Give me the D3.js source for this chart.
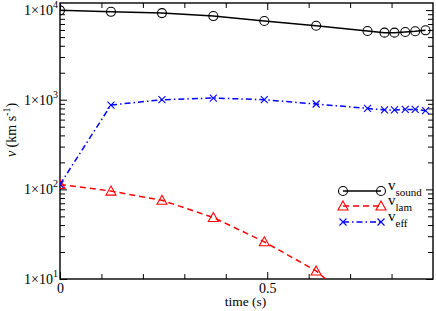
<!DOCTYPE html>
<html><head><meta charset="utf-8">
<script src="https://cdn.jsdelivr.net/npm/d3@7"></script>
<style>body{margin:0;background:#fff}svg{display:block}svg text{font-family:"Liberation Serif","Times New Roman",serif !important}</style>
</head><body><svg id="c" width="436" height="311"></svg>
<script>
const time = [0, 0.123, 0.246, 0.370, 0.493, 0.618, 0.742, 0.783, 0.807, 0.833, 0.857, 0.882];
const vSound = [9930, 9570, 9260, 8580, 7550, 6690, 5840, 5600, 5600, 5700, 5800, 5950];
const vLam = [113.6, 95.7, 75.5, 48.5, 26, 12.3, 4.0];
const vEff = [113.6, 873, 1000, 1045, 1000, 896, 800, 769, 769, 780, 780, 755];
const xTicksMajor = [0, 0.5];
const xTicksMinor = [0.1, 0.2, 0.3, 0.4, 0.6, 0.7, 0.8];
const yDecades = [10, 100, 1000, 10000];
const legendNames = ["sound", "lam", "eff"];

(function () {
const svg = d3.select("#c");
const L = 60, R = 433, T = 3, B = 279;
const x = d3.scaleLinear().domain([0, 0.9]).range([L, R]);
const y = d3.scaleLog().domain([10, 12000]).range([B, T]);

const minorYv = [];
for (const d of [10, 100, 1000]) for (let k = 2; k <= 9; k++) minorYv.push(d * k);

svg.append("defs").append("clipPath").attr("id", "clip")
  .append("rect").attr("x", L).attr("y", T).attr("width", R - L).attr("height", B - T);

const g = svg.append("g");
const bottomAx = g.append("g").attr("transform", `translate(0,${B})`)
  .call(d3.axisBottom(x).tickValues(xTicksMajor).tickSizeInner(-7).tickSizeOuter(0).tickPadding(4).tickFormat(d => d === 0 ? "0" : d3.format(".1f")(d)));
bottomAx.append("g").call(d3.axisBottom(x).tickValues(xTicksMinor).tickSizeInner(-5).tickSizeOuter(0).tickFormat(""));
const topAx = g.append("g").attr("transform", `translate(0,${T})`)
  .call(d3.axisTop(x).tickValues(xTicksMajor).tickSizeInner(-7).tickSizeOuter(0).tickFormat(""));
topAx.append("g").call(d3.axisTop(x).tickValues(xTicksMinor).tickSizeInner(-5).tickSizeOuter(0).tickFormat(""));
const leftAx = g.append("g").attr("transform", `translate(${L},0)`)
  .call(d3.axisLeft(y).tickValues(yDecades).tickSizeInner(-7).tickSizeOuter(0).tickFormat(""));
leftAx.append("g").call(d3.axisLeft(y).tickValues(minorYv).tickSizeInner(-5).tickSizeOuter(0).tickFormat(""));
const rightAx = g.append("g").attr("transform", `translate(${R},0)`)
  .call(d3.axisRight(y).tickValues(yDecades).tickSizeInner(-7).tickSizeOuter(0).tickFormat(""));
rightAx.append("g").call(d3.axisRight(y).tickValues(minorYv).tickSizeInner(-5).tickSizeOuter(0).tickFormat(""));
g.selectAll(".domain").remove();
g.selectAll(".tick line").attr("stroke", "#000").attr("stroke-width", 1);
bottomAx.selectAll("text").attr("font-size", 14).attr("fill", "#000");

g.append("rect").attr("x", L).attr("y", T).attr("width", R - L).attr("height", B - T)
  .attr("fill", "none").attr("stroke", "#000").attr("stroke-width", 1.4);

const yl = g.append("g");
yDecades.forEach(v => {
  const t = yl.append("text").attr("x", L - 2).attr("y", y(v) + 5).attr("text-anchor", "end").attr("font-size", 14).attr("fill", "#000");
  t.append("tspan").text("1×10");
  t.append("tspan").attr("font-size", 10).attr("dy", -7).text(String(Math.round(Math.log10(v))));
});

svg.append("text").attr("x", (L + R) / 2 - 1).attr("y", 306).attr("text-anchor", "middle").attr("font-size", 13.5).text("time (s)");
const yt = svg.append("text").attr("transform", `translate(16,130) rotate(-90)`).attr("text-anchor", "middle").attr("font-size", 14);
yt.append("tspan").attr("font-style", "italic").text("v");
yt.append("tspan").text(" (km s");
yt.append("tspan").attr("font-size", 10).attr("dy", -6).text("-1");
yt.append("tspan").attr("dy", 6).text(")");

const plot = svg.append("g").attr("clip-path", "url(#clip)");
const series = [
  {vals: vSound, color: "#000", dash: null, marker: "circle"},
  {vals: vLam, color: "#ff0000", dash: "6,4", marker: "triangle"},
  {vals: vEff, color: "#0000ff", dash: "6,3,1.5,3", marker: "x"}
];
const line = d3.line().x(d => x(d[0])).y(d => y(d[1]));
function drawMarker(sel, type, color, cx, cy) {
  if (type === "circle") sel.append("circle").attr("cx", cx).attr("cy", cy).attr("r", 4.5).attr("fill", "none").attr("stroke", color).attr("stroke-width", 1.1);
  else if (type === "triangle") sel.append("path").attr("d", `M${cx},${cy - 5}L${cx + 5},${cy + 4}L${cx - 5},${cy + 4}Z`).attr("fill", "none").attr("stroke", color).attr("stroke-width", 1.1);
  else sel.append("path").attr("d", `M${cx - 3.5},${cy - 3.5}L${cx + 3.5},${cy + 3.5}M${cx - 3.5},${cy + 3.5}L${cx + 3.5},${cy - 3.5}`).attr("stroke", color).attr("stroke-width", 1.1);
}
series.forEach(s => {
  const pts = s.vals.map((v, i) => [time[i], v]);
  plot.append("path").attr("d", line(pts)).attr("fill", "none").attr("stroke", s.color).attr("stroke-width", 1.5)
    .attr("stroke-dasharray", s.dash);
  pts.forEach(p => drawMarker(plot, s.marker, s.color, x(p[0]), y(p[1])));
});

const lg = svg.append("g");
const rowY = [191, 206, 222];
series.forEach((s, i) => {
  const yy = rowY[i];
  lg.append("line").attr("x1", 343).attr("x2", 381).attr("y1", yy).attr("y2", yy).attr("stroke", s.color).attr("stroke-width", 1.5).attr("stroke-dasharray", s.dash);
  drawMarker(lg, s.marker, s.color, 343, yy);
  drawMarker(lg, s.marker, s.color, 381, yy);
  const t = lg.append("text").attr("x", 388).attr("y", yy - 1).attr("font-size", 15);
  t.append("tspan").text("v");
  t.append("tspan").attr("font-size", 11).attr("dy", 6).text(legendNames[i]);
});
})();
</script></body></html>
